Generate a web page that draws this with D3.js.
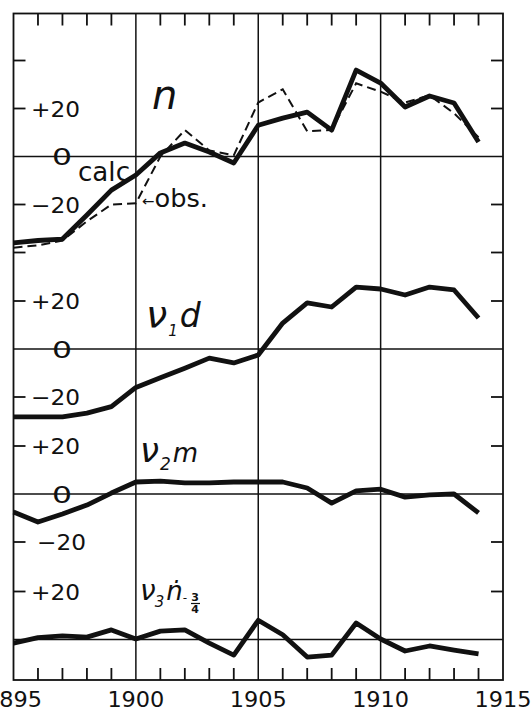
<!DOCTYPE html>
<html>
<head>
<meta charset="utf-8">
<script src="https://cdn.jsdelivr.net/npm/d3@7"></script>
<style>
  html, body { margin: 0; padding: 0; background: #fff; }
  svg { display: block; }
  text { font-family: "DejaVu Sans", sans-serif; fill: #111; }
</style>
</head>
<body>
<div class="chart"></div>
<script>
// Values (deviations, one point per year)
const years = [1895, 1896, 1897, 1898, 1899, 1900, 1901, 1902, 1903, 1904,
               1905, 1906, 1907, 1908, 1909, 1910, 1911, 1912, 1913, 1914];
const nCalc = [-36, -35, -34.4, -24.4, -14, -7.7, 1.5, 5.6, 1.9, -2.7,
               13, 16, 18.5, 11, 36, 30.6, 20.6, 25.2, 22.3, 6];
const nObs  = [-38, -37, -35, -27, -20, -19.5, 0, 11, 2.5, 0.5,
               22.5, 28, 10.5, 11, 30.5, 27, 22.5, 25.5, 18, 8];
const v1d   = [-28.3, -28.3, -28.3, -26.7, -24, -16, -12, -8, -3.8, -5.8,
               -2.5, 10.8, 19.2, 17.5, 25.8, 25, 22.5, 25.8, 24.6, 12.9];
const v2m   = [-7.5, -11.7, -8.3, -4.6, 0.4, 5, 5.4, 4.6, 4.6, 5,
               5, 5, 2.5, -3.8, 1.3, 2, -1.3, -0.4, 0, -7.9];
const v3n   = [-1.5, 0.8, 1.5, 1, 4, 0.2, 3.5, 4, -1.5, -6.5,
               8, 2, -7.3, -6.5, 6.9, 0.2, -4.8, -2.7, -4.4, -6];

// Axis ticks and labels
const labelYears = [1895, 1900, 1905, 1910, 1915];
const gridYears = [1900, 1905, 1910];
const minorYears = [1896, 1897, 1898, 1899, 1901, 1902, 1903, 1904,
                    1906, 1907, 1908, 1909, 1911, 1912, 1913, 1914];
const panelTicks = [[40, 20, -20, -40], [20, -20], [20, -20], [20]];
const panelLabels = [[20, 0, -20], [20, 0, -20], [20, 0, -20], [20]];

// Layout
const width = 531, height = 717;
const frameTop = 13.5, frameBottom = 680;
const panelZero = [156.5, 349, 494, 639.5];
const unit = 2.4; // px per unit of deviation

const svg = d3.select(".chart")
    .append("svg")
    .attr("width", width)
    .attr("height", height);

const x = d3.scaleLinear().domain([1895, 1915]).range([13.5, 503]);

// one scale per panel, sharing the same units
const yScales = panelZero.map(z => d3.scaleLinear()
    .domain([-20, 20])
    .range([z + 20 * unit, z - 20 * unit]));

// frame
svg.append("rect")
    .attr("x", x(1895)).attr("y", frameTop)
    .attr("width", x(1915) - x(1895)).attr("height", frameBottom - frameTop)
    .attr("fill", "none").attr("stroke", "#111").attr("stroke-width", 1.8);

// vertical grid lines
svg.selectAll(".vgrid").data(gridYears).enter().append("line")
    .attr("x1", d => x(d)).attr("x2", d => x(d))
    .attr("y1", frameTop).attr("y2", frameBottom)
    .attr("stroke", "#111").attr("stroke-width", 1.5);

// zero lines of every panel
svg.selectAll(".zero").data(yScales).enter().append("line")
    .attr("x1", x(1895)).attr("x2", x(1915))
    .attr("y1", d => d(0)).attr("y2", d => d(0))
    .attr("stroke", "#111").attr("stroke-width", 1.5);

// year ticks, top and bottom, pointing inward
const tickLen = 12;
minorYears.forEach(yr => {
    svg.append("line")
        .attr("x1", x(yr)).attr("x2", x(yr))
        .attr("y1", frameTop).attr("y2", frameTop + tickLen)
        .attr("stroke", "#111").attr("stroke-width", 1.8);
    svg.append("line")
        .attr("x1", x(yr)).attr("x2", x(yr))
        .attr("y1", frameBottom - tickLen).attr("y2", frameBottom)
        .attr("stroke", "#111").attr("stroke-width", 1.8);
});

// value ticks on both sides
panelTicks.forEach((ticks, i) => {
    ticks.forEach(v => {
        const yy = yScales[i](v);
        svg.append("line")
            .attr("x1", x(1895)).attr("x2", x(1895) + tickLen)
            .attr("y1", yy).attr("y2", yy)
            .attr("stroke", "#111").attr("stroke-width", 1.8);
        svg.append("line")
            .attr("x1", x(1915) - tickLen).attr("x2", x(1915))
            .attr("y1", yy).attr("y2", yy)
            .attr("stroke", "#111").attr("stroke-width", 1.8);
    });
});

// value labels
panelLabels.forEach((labels, i) => {
    labels.forEach(v => {
        const yy = yScales[i](v);
        if (v === 0) {
            svg.append("text")
                .attr("x", 52).attr("y", yy + 8.5)
                .attr("font-size", 23)
                .attr("textLength", 20).attr("lengthAdjust", "spacingAndGlyphs")
                .text("0");
        } else {
            svg.append("text")
                .attr("x", i === 2 && v < 0 ? 37 : 31).attr("y", yy + 8)
                .attr("font-size", 22)
                .attr("textLength", 49).attr("lengthAdjust", "spacingAndGlyphs")
                .text(v > 0 ? "+" + v : "\u2212" + (-v));
        }
    });
});

// year labels
svg.selectAll(".year").data(labelYears).enter().append("text")
    .attr("x", d => x(d)).attr("y", 707)
    .attr("text-anchor", "middle")
    .attr("font-size", 21)
    .attr("textLength", 57).attr("lengthAdjust", "spacingAndGlyphs")
    .text(d => d);

// series lines
const lineFor = yScale => d3.line()
    .x((d, i) => x(years[i]))
    .y(d => yScale(d));

svg.append("path")
    .attr("d", lineFor(yScales[0])(nObs))
    .attr("fill", "none").attr("stroke", "#111")
    .attr("stroke-width", 2).attr("stroke-dasharray", "9,5");

[[nCalc, 0], [v1d, 1], [v2m, 2], [v3n, 3]].forEach(([vals, i]) => {
    svg.append("path")
        .attr("d", lineFor(yScales[i])(vals))
        .attr("fill", "none").attr("stroke", "#111")
        .attr("stroke-width", 4.8)
        .attr("stroke-linejoin", "round")
        .attr("stroke-linecap", "butt");
});

// series names
svg.append("text")
    .attr("x", 152).attr("y", 109)
    .attr("font-size", 40).attr("font-style", "italic")
    .text("n");

svg.append("text")
    .attr("x", 78).attr("y", 181)
    .attr("font-size", 26)
    .attr("textLength", 52).attr("lengthAdjust", "spacingAndGlyphs")
    .text("calc");

const obs = svg.append("text").attr("x", 142).attr("y", 207)
    .attr("textLength", 66).attr("lengthAdjust", "spacingAndGlyphs");
obs.append("tspan").attr("font-size", 14).attr("dy", -1).text("\u2190");
obs.append("tspan").attr("font-size", 24).attr("dy", 1).text("obs.");

const l1 = svg.append("text").attr("x", 146).attr("y", 327).attr("font-style", "italic");
l1.append("tspan").attr("font-size", 38).text("\u03bd");
l1.append("tspan").attr("font-size", 15).attr("dy", 9).attr("dx", 1).text("1");
l1.append("tspan").attr("font-size", 33).attr("dy", -9).attr("dx", 2).text("d");

const l2 = svg.append("text").attr("x", 140).attr("y", 462).attr("font-style", "italic");
l2.append("tspan").attr("font-size", 34).text("\u03bd");
l2.append("tspan").attr("font-size", 17).attr("dy", 8).attr("dx", 1).text("2");
l2.append("tspan").attr("font-size", 26).attr("dy", -8).attr("dx", 2).text("m");

const l3 = svg.append("text").attr("x", 140).attr("y", 600).attr("font-style", "italic");
l3.append("tspan").attr("font-size", 28).text("\u03bd");
l3.append("tspan").attr("font-size", 15).attr("dy", 7).attr("dx", -1).text("3");
l3.append("tspan").attr("font-size", 26).attr("dy", -7).attr("dx", 2).text("\u1e45");
l3.append("tspan").attr("font-size", 12).attr("dy", 2).text("-");
// the -3/4 lag written as a small stacked fraction
svg.append("text").attr("x", 195).attr("y", 601).attr("text-anchor", "middle")
    .attr("font-size", 11).attr("font-weight", "bold").text("3");
svg.append("line").attr("x1", 191).attr("x2", 200).attr("y1", 603.5).attr("y2", 603.5)
    .attr("stroke", "#111").attr("stroke-width", 1.2);
svg.append("text").attr("x", 195).attr("y", 613).attr("text-anchor", "middle")
    .attr("font-size", 11).attr("font-weight", "bold").text("4");
</script>
</body>
</html>
